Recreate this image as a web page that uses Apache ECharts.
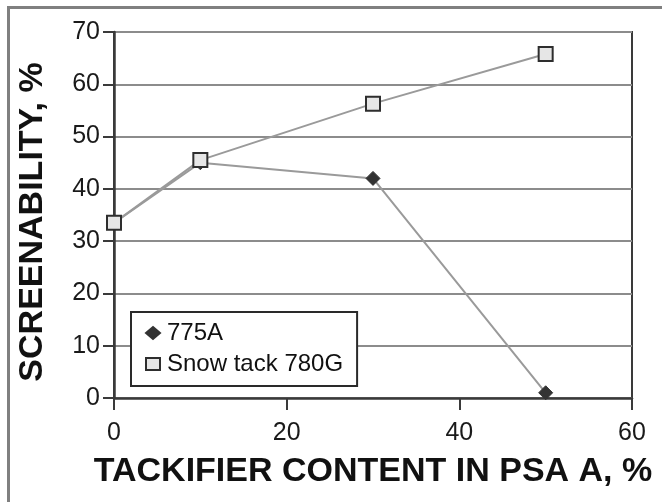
<!DOCTYPE html>
<html>
<head>
<meta charset="utf-8">
<script src="https://cdn.jsdelivr.net/npm/echarts@6/dist/echarts.min.js"></script>
<style>
html,body{margin:0;padding:0;background:#fff;}
#chart{width:662px;height:502px;}
</style>
</head>
<body>
<div id="chart"></div>
<script>
var FONT = "'Liberation Sans', Arial, Helvetica, sans-serif";
var xTicks = [0, 20, 40, 60];
var yTicks = [0, 10, 20, 30, 40, 50, 60, 70];
var xValues = [0, 10, 30, 50];
var series775A = [33.5, 45, 42, 1];
var seriesSnow = [33.5, 45.5, 56.3, 65.8];
var seriesNames = ['775A', 'Snow tack 780G'];
var xTitle = 'TACKIFIER CONTENT IN PSA A, %';
var yTitle = 'SCREENABILITY, %';

function pairs(xs, ys) { return xs.map(function (x, i) { return [x, ys[i]]; }); }

var chart = echarts.init(document.getElementById('chart'), null, {renderer: 'canvas'});
chart.setOption({
  animation: false,
  backgroundColor: '#fff',
  textStyle: {fontFamily: FONT},
  graphic: [{
    type: 'rect', left: 6, top: 5, silent: true,
    shape: {x: 0, y: 0, width: 720, height: 560},
    style: {fill: 'none', stroke: '#808080', lineWidth: 3}
  }],
  grid: {left: 114, right: 30, top: 32, bottom: 104, show: true,
         containLabel: false, outerBoundsMode: 'none',
         borderColor: '#3a3a3a', borderWidth: 2, backgroundColor: 'transparent'},
  xAxis: {
    type: 'value', min: xTicks[0], max: xTicks[xTicks.length - 1], interval: 20,
    name: xTitle, nameLocation: 'middle', nameGap: 57,
    nameTextStyle: {fontFamily: FONT, fontSize: 34, fontWeight: 'bold', color: '#111'},
    axisLine: {show: true, lineStyle: {color: '#3a3a3a', width: 2.5}},
    axisTick: {show: true, inside: false, length: 12, lineStyle: {color: '#3a3a3a', width: 2}},
    axisLabel: {fontFamily: FONT, fontSize: 25, color: '#1a1a1a', margin: 23},
    splitLine: {show: false}
  },
  yAxis: {
    type: 'value', min: yTicks[0], max: yTicks[yTicks.length - 1], interval: 10,
    name: yTitle, nameLocation: 'middle', nameGap: 64,
    nameTextStyle: {fontFamily: FONT, fontSize: 34, fontWeight: 'bold', color: '#111',
                    padding: [0, 14, 0, 0]},
    axisLine: {show: true, lineStyle: {color: '#3a3a3a', width: 2.5}},
    axisTick: {show: true, inside: false, length: 11, lineStyle: {color: '#3a3a3a', width: 2}},
    axisLabel: {fontFamily: FONT, fontSize: 25, color: '#1a1a1a', margin: 14},
    splitLine: {show: true, lineStyle: {color: '#8c8c8c', width: 2}}
  },
  legend: {
    show: true, orient: 'vertical', left: 131, top: 312,
    padding: [9, 14, 10, 14], itemGap: 7,
    itemWidth: 14, itemHeight: 12,
    backgroundColor: '#fff', borderColor: '#2a2a2a', borderWidth: 2,
    textStyle: {fontFamily: FONT, fontSize: 24, color: '#111', padding: [0, 0, 0, 2]},
    data: [{name: seriesNames[0], icon: 'diamond'}, {name: seriesNames[1], icon: 'rect'}]
  },
  series: [{
    name: seriesNames[0], type: 'line', data: pairs(xValues, series775A),
    symbol: 'diamond', symbolSize: 14,
    lineStyle: {color: '#9a9a9a', width: 2},
    itemStyle: {color: '#333', borderColor: '#333', borderWidth: 1},
    z: 2
  }, {
    name: seriesNames[1], type: 'line', data: pairs(xValues, seriesSnow),
    symbol: 'rect', symbolSize: 14,
    lineStyle: {color: '#9a9a9a', width: 2},
    itemStyle: {color: '#e6e6e6', borderColor: '#2e2e2e', borderWidth: 2},
    z: 3
  }]
});
</script>
</body>
</html>
